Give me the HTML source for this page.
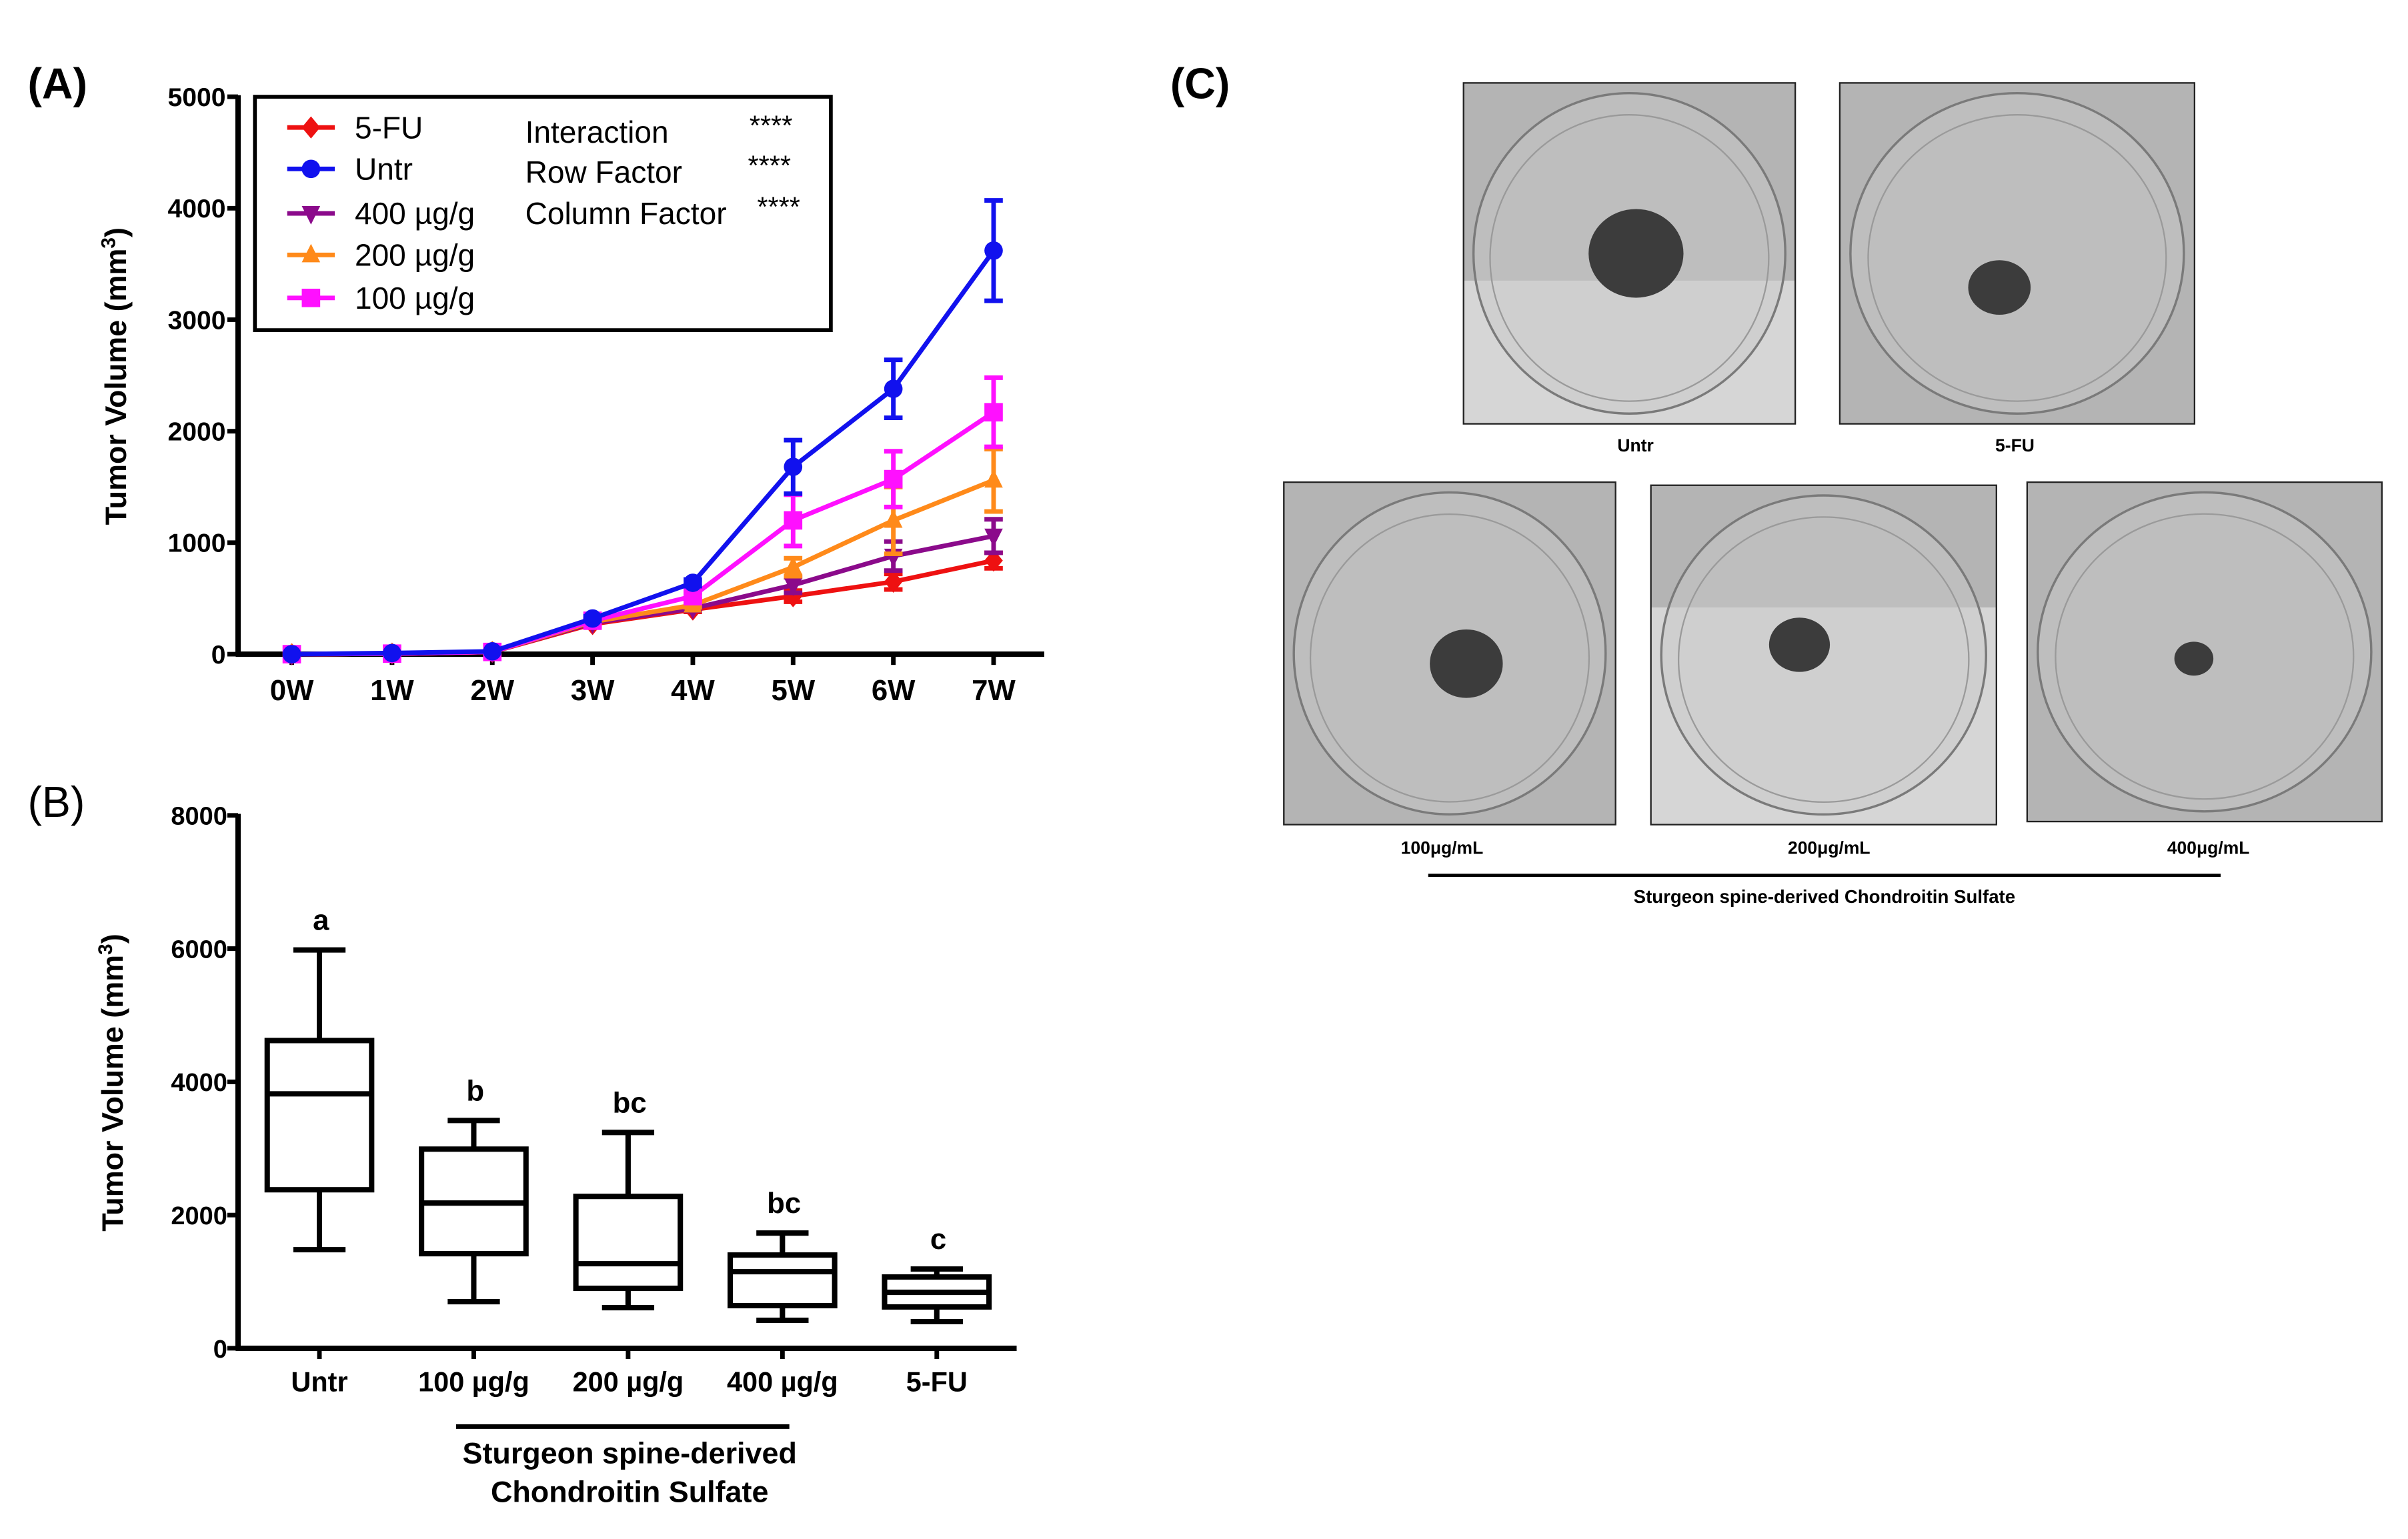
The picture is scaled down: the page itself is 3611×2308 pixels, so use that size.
<!DOCTYPE html>
<html><head><meta charset="utf-8"><style>
html,body{margin:0;padding:0;background:#fff}
svg{display:block}
text{font-family:"Liberation Sans Narrow","Liberation Sans",sans-serif}
</style></head><body>
<svg id="fig" width="3611" height="2308" viewBox="0 0 1568 1002.2" xmlns="http://www.w3.org/2000/svg">
<rect width="1568" height="1002.2" fill="#fff"/>
<g id="panelA"></g>
<g id="panelB"></g>
<g id="panelC"></g>
</svg>
<script>
// ---------- Panel A data ----------
const weeks = ["0W","1W","2W","3W","4W","5W","6W","7W"];
const seriesNames = ["5-FU","Untr","400 µg/g","200 µg/g","100 µg/g"];
const fuVals   = [0,5,20,270,400,520,650,840];
const untrVals = [0,10,25,320,640,1680,2380,3620];
const d400Vals = [0,5,20,280,410,620,880,1060];
const d200Vals = [0,5,20,290,440,780,1200,1560];
const d100Vals = [0,5,20,300,520,1200,1570,2170];
const fuErr   = [0,0,0,20,20,50,70,70];
const untrErr = [0,0,0,20,30,240,260,450];
const d400Err = [0,0,0,20,20,70,130,150];
const d200Err = [0,0,0,20,20,80,300,280];
const d100Err = [0,0,0,20,30,230,250,310];
const yTicksA = [0,1000,2000,3000,4000,5000];
// ---------- Panel B data ----------
const groupsB = ["Untr","100 µg/g","200 µg/g","400 µg/g","5-FU"];
const minB = [1480,700,610,420,400];
const q1B  = [2380,1420,900,640,620];
const medB = [3820,2180,1270,1150,840];
const q3B  = [4620,2990,2280,1400,1070];
const maxB = [5980,3420,3240,1730,1190];
const lettersB = ["a","b","bc","bc","c"];
const yTicksB = [0,2000,4000,6000,8000];

const NS="http://www.w3.org/2000/svg";
function mk(parent,tag,attrs,txt){const e=document.createElementNS(NS,tag);for(const k in attrs)e.setAttribute(k,attrs[k]);if(txt!==undefined)e.textContent=txt;parent.appendChild(e);return e;}

// ===== Panel A =====
const A=document.getElementById('panelA');
const ax0=155, ax1=680, ay0=426, ay1=63;
const xA=i=>190+i*(647-190)/7;
const yA=v=>ay0-(v/5000)*(ay0-ay1);
let t=mk(A,'text',{x:18,y:64,'font-size':28,'font-weight':'bold'},'(A)');


let ya=mk(A,'line',{x1:ax0,y1:ay1-1,x2:ax0,y2:ay0+1.5,stroke:'#000','stroke-width':3.5});


let xa=mk(A,'line',{x1:ax0-1.5,y1:ay0,x2:ax1,y2:ay0,stroke:'#000','stroke-width':3.5});


yTicksA.forEach(v=>{
  mk(A,'line',{x1:ax0-7,y1:yA(v),x2:ax0,y2:yA(v),stroke:'#000','stroke-width':3});
  const l=mk(A,'text',{x:ax0-8,y:yA(v)+6,'font-size':17,'font-weight':'bold','text-anchor':'end'},String(v));
  
  
});
weeks.forEach((w,i)=>{
  mk(A,'line',{x1:xA(i),y1:ay0,x2:xA(i),y2:ay0+7,stroke:'#000','stroke-width':3});
  const l=mk(A,'text',{x:xA(i),y:456,'font-size':19,'font-weight':'bold','text-anchor':'middle'},w);
  
  
});
let yt=mk(A,'text',{x:0,y:0,'font-size':19.5,'font-weight':'bold','text-anchor':'middle',transform:'translate(82,245) rotate(-90)',style:'font-family:"Liberation Sans",sans-serif'});
yt.innerHTML='Tumor Volume (mm<tspan dy="-7" font-size="13">3</tspan><tspan dy="7">)</tspan>';



const colors=["#ee1111","#1111ee","#8b0a8b","#ff8a1a","#ff10ff"];
const shapes=["diamond","circle","tridown","triup","square"];
const vals=[fuVals,untrVals,d400Vals,d200Vals,d100Vals];
const errs=[fuErr,untrErr,d400Err,d200Err,d100Err];
function marker(g,shape,x,y,c,s){
  if(shape==='circle')return mk(g,'circle',{cx:x,cy:y,r:s,fill:c});
  if(shape==='square')return mk(g,'rect',{x:x-s,y:y-s,width:2*s,height:2*s,fill:c});
  if(shape==='diamond')return mk(g,'polygon',{points:`${x},${y-s*1.2} ${x+s},${y} ${x},${y+s*1.2} ${x-s},${y}`,fill:c});
  if(shape==='triup')return mk(g,'polygon',{points:`${x},${y-s*1.2} ${x+s},${y+s*0.8} ${x-s},${y+s*0.8}`,fill:c});
  return mk(g,'polygon',{points:`${x},${y+s*1.2} ${x+s},${y-s*0.8} ${x-s},${y-s*0.8}`,fill:c});
}
[0,2,3,4,1].forEach(si=>{
  const g=mk(A,'g',{});
  
  
  const c=colors[si];
  const pts=vals[si].map((v,i)=>xA(i)+','+yA(v)).join(' ');
  const pl=mk(g,'polyline',{points:pts,fill:'none',stroke:c,'stroke-width':3});
  
  
  vals[si].forEach((v,i)=>{
    const e=errs[si][i];
    if(e>0){
      const eb=mk(g,'path',{d:`M${xA(i)},${yA(v+e)}V${yA(v-e)}M${xA(i)-6},${yA(v+e)}h12M${xA(i)-6},${yA(v-e)}h12`,stroke:c,'stroke-width':3,fill:'none'});
      
      
    }
    const m=marker(g,shapes[si],xA(i),yA(v),c,6);
    
    
  });
});
const lg=mk(A,'g',{});


mk(lg,'rect',{x:166,y:63,width:375,height:152,fill:'#fff',stroke:'#000','stroke-width':2.5});
const rowsY=[83,110,139,166,194];
seriesNames.forEach((n,i)=>{
  const e=mk(lg,'g',{});
  
  
  mk(e,'line',{x1:187,y1:rowsY[i],x2:218,y2:rowsY[i],stroke:colors[i],'stroke-width':3});
  marker(e,shapes[i],202.5,rowsY[i],colors[i],6);
  mk(e,'text',{x:231,y:rowsY[i]+7,'font-size':20},n);
});
const stats=[["Interaction",86,"****",488],["Row Factor",112,"****",487],["Column Factor",139,"****",493]];
stats.forEach(s=>{
  const a=mk(lg,'text',{x:342,y:s[1]+7,'font-size':20},s[0]);
  
  
  const b=mk(lg,'text',{x:s[3],y:s[1]+2,'font-size':18},s[2]);
  
  
});

// ===== Panel B =====
const B=document.getElementById('panelB');
const bx0=155,bx1=662,by0=878,by1=531;
const yB=v=>by0-(v/8000)*(by0-by1);
const xB=i=>208+i*(610-208)/4;
t=mk(B,'text',{x:18,y:532,'font-size':28,style:'font-family:"Liberation Sans",sans-serif'},'(B)');


let yb=mk(B,'line',{x1:bx0,y1:by1-1,x2:bx0,y2:by0+1.5,stroke:'#000','stroke-width':3.5});


let xb=mk(B,'line',{x1:bx0-1.5,y1:by0,x2:bx1,y2:by0,stroke:'#000','stroke-width':3.5});


yTicksB.forEach(v=>{
  mk(B,'line',{x1:bx0-7,y1:yB(v),x2:bx0,y2:yB(v),stroke:'#000','stroke-width':3});
  const l=mk(B,'text',{x:bx0-7,y:yB(v)+6,'font-size':16.5,'font-weight':'bold','text-anchor':'end'},String(v));
  
  
});
groupsB.forEach((gname,i)=>{
  mk(B,'line',{x1:xB(i),y1:by0,x2:xB(i),y2:by0+7,stroke:'#000','stroke-width':3});
  const l=mk(B,'text',{x:xB(i),y:906,'font-size':18,'font-weight':'bold','text-anchor':'middle'},gname);
  
  
  const g=mk(B,'g',{});
  
  
  const x=xB(i),w=34,cw=17;
  mk(g,'rect',{x:x-w,y:yB(q3B[i]),width:2*w,height:yB(q1B[i])-yB(q3B[i]),fill:'#fff',stroke:'#000','stroke-width':3.5});
  mk(g,'path',{d:`M${x-w},${yB(medB[i])}h${2*w}M${x},${yB(q3B[i])}V${yB(maxB[i])}M${x-cw},${yB(maxB[i])}h${2*cw}M${x},${yB(q1B[i])}V${yB(minB[i])}M${x-cw},${yB(minB[i])}h${2*cw}`,stroke:'#000','stroke-width':3.5,fill:'none'});
  const lt=mk(B,'text',{x:x+1,y:yB(maxB[i])-13,'font-size':19,'font-weight':'bold','text-anchor':'middle'},lettersB[i]);
  
  
});
let ybt=mk(B,'text',{x:0,y:0,'font-size':19.5,'font-weight':'bold','text-anchor':'middle',transform:'translate(80,705) rotate(-90)',style:'font-family:"Liberation Sans",sans-serif'});
ybt.innerHTML='Tumor Volume (mm<tspan dy="-7" font-size="13">3</tspan><tspan dy="7">)</tspan>';


let br=mk(B,'line',{x1:297,y1:929,x2:514,y2:929,stroke:'#000','stroke-width':3});


let gt=mk(B,'text',{x:410,y:953,'font-size':19.5,'font-weight':'bold','text-anchor':'middle'},'Sturgeon spine-derived');


gt=mk(B,'text',{x:410,y:978,'font-size':19.5,'font-weight':'bold','text-anchor':'middle'},'Chondroitin Sulfate');



// ===== Panel C =====
const C=document.getElementById('panelC');
t=mk(C,'text',{x:762,y:64,'font-size':28,'font-weight':'bold'},'(C)');


const photos=[
 {n:"Untr",x:953,y:54,w:216,h:222,lx:1065,ly:290,bx:0.52,by:0.5,br:0.13,split:0.58},
 {n:"5-FU",x:1198,y:54,w:231,h:222,lx:1312,ly:290,bx:0.45,by:0.6,br:0.08,split:0},
 {n:"100μg/mL",x:836,y:314,w:216,h:223,lx:939,ly:552,bx:0.55,by:0.53,br:0.1,split:0},
 {n:"200μg/mL",x:1075,y:316,w:225,h:221,lx:1191,ly:552,bx:0.43,by:0.47,br:0.08,split:0.36},
 {n:"400μg/mL",x:1320,y:314,w:231,h:221,lx:1438,ly:552,bx:0.47,by:0.52,br:0.05,split:0}
];
photos.forEach((p,i)=>{
  const g=mk(C,'g',{});
  
  
  mk(g,'rect',{x:p.x,y:p.y,width:p.w,height:p.h,fill:'#b4b4b4'});
  if(p.split>0) mk(g,'rect',{x:p.x,y:p.y+p.h*p.split,width:p.w,height:p.h*(1-p.split),fill:'#d6d6d6'});
  mk(g,'ellipse',{cx:p.x+p.w/2,cy:p.y+p.h/2,rx:p.w*0.47,ry:p.h*0.47,fill:'#c8c8c8','fill-opacity':0.5,stroke:'#7a7a7a','stroke-width':1.5});
  mk(g,'ellipse',{cx:p.x+p.w/2,cy:p.y+p.h/2+3,rx:p.w*0.42,ry:p.h*0.42,fill:'none',stroke:'#9a9a9a','stroke-width':1});
  mk(g,'ellipse',{cx:p.x+p.w*p.bx,cy:p.y+p.h*p.by,rx:p.w*p.br*1.1,ry:p.h*p.br,fill:'#3c3c3c'});
  mk(g,'rect',{x:p.x,y:p.y,width:p.w,height:p.h,fill:'none',stroke:'#222','stroke-width':1});
  const l=mk(C,'text',{x:p.lx,y:p.ly+4,'font-size':11.5,'font-weight':'bold','text-anchor':'middle'},p.n);
  
  
});
let cl=mk(C,'line',{x1:930,y1:570,x2:1446,y2:570,stroke:'#000','stroke-width':2});


let ct=mk(C,'text',{x:1188,y:588,'font-size':12,'font-weight':'bold','text-anchor':'middle'},'Sturgeon spine-derived Chondroitin Sulfate');


</script>
</body></html>
